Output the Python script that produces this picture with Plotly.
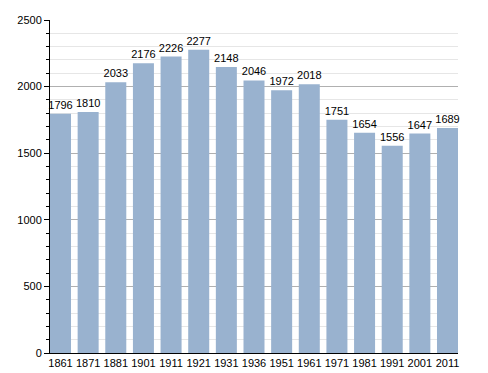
import plotly.graph_objects as go

years = ["1861", "1871", "1881", "1901", "1911", "1921", "1931", "1936",
         "1951", "1961", "1971", "1981", "1991", "2001", "2011"]
population = [1796, 1810, 2033, 2176, 2226, 2277, 2148, 2046,
              1972, 2018, 1751, 1654, 1556, 1647, 1689]

fig = go.Figure(go.Bar(
    x=years, y=population,
    marker=dict(color="#99b2cf", line=dict(width=0)),
    text=[str(v) for v in population],
    textposition="outside",
    constraintext="none",
    textfont=dict(family="Liberation Sans, Arial, sans-serif", size=11, color="black"),
    cliponaxis=False,
))

# page body has an 8px default margin, so the figure is sized to fit the window
fig.update_layout(
    width=480, height=365,
    margin=dict(l=42, r=30, t=12, b=20, autoexpand=False),
    paper_bgcolor="white", plot_bgcolor="white",
    bargap=0.24,
    showlegend=False,
    font=dict(family="Liberation Sans, Arial, sans-serif", size=11, color="black"),
)
fig.update_xaxes(
    type="category", automargin=False,
    range=[-0.38, len(years) - 1 + 0.38],
    showline=True, linecolor="black", linewidth=1,
    ticks="", tickfont=dict(size=11),
    showgrid=False,
)
fig.update_yaxes(
    range=[0, 2500], dtick=500, automargin=False,
    showline=True, linecolor="black", linewidth=1,
    ticks="outside", ticklen=5, tickcolor="black",
    showgrid=True, gridcolor="#b0b0b0", gridwidth=1,
    zeroline=False,
    tickfont=dict(size=11),
    minor=dict(dtick=100, ticks="outside", ticklen=3, tickcolor="black",
               showgrid=True, gridcolor="#e6e6e6", gridwidth=1),
)

fig.write_html("out.html")
